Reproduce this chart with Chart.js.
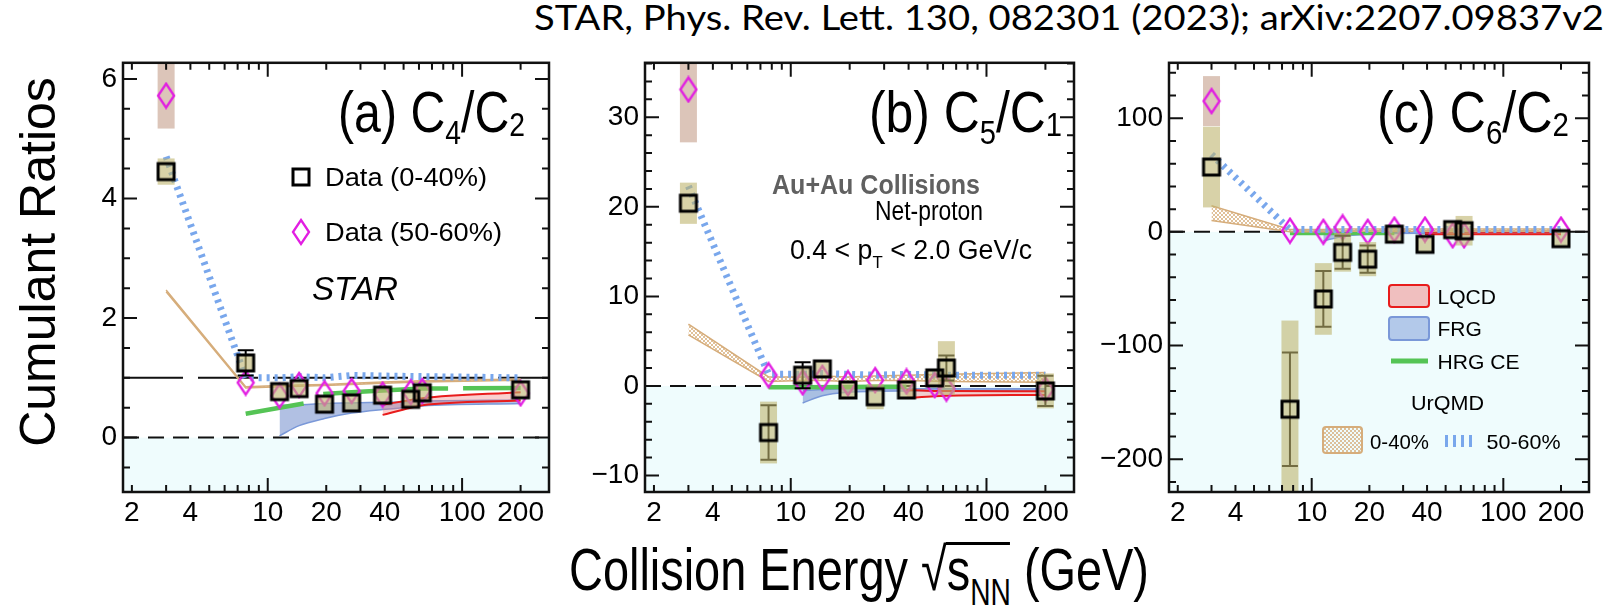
<!DOCTYPE html>
<html>
<head>
<meta charset="utf-8">
<title>Net-proton cumulant ratios vs collision energy</title>
<script src="https://cdn.jsdelivr.net/npm/chart.js@4.4.1/dist/chart.umd.min.js"></script>
<style>
  html, body { margin: 0; padding: 0; background: #fff; }
  body { position: relative; width: 1609px; height: 616px; overflow: hidden; font-family: "Liberation Sans", Arial, sans-serif; }
  canvas { position: absolute; }
  .lbl { position: absolute; white-space: nowrap; line-height: 1; color: #000; transform-origin: 0 0; }
  #cite { font-family: Lato, "Open Sans", sans-serif; font-size: 34px; left: 534px; top: 0px; }
  #ytitle { font-size: 50px; left: 37.5px; top: 262px; transform: translate(-50%, -50%) rotate(-90deg); transform-origin: 50% 50%; }
  #xtitle { font-size: 60px; left: 569px; top: 540px; }
  #xtitle sub { font-size: 36px; vertical-align: -15px; line-height: 1; }
  #xtitle .root { position: relative; }
  #xtitle .root::before { content: ''; position: absolute; left: -1px; right: 1px; top: 6px; border-top: 3px solid #000; }
</style>
</head>
<body>
<div class="lbl" id="cite">STAR, Phys. Rev. Lett. 130, 082301 (2023); arXiv:2207.09837v2</div>
<div class="lbl" id="ytitle">Cumulant Ratios</div>
<div class="lbl" id="xtitle">Collision Energy √<span class="root">s<sub>NN</sub></span> (GeV)</div>
<script>
// collision energies of the measured points (GeV)
const energies = [3, 7.7, 11.5, 14.5, 19.6, 27, 39, 54.4, 62.4, 200];

// C4/C2
const c42Data0040 = [4.45, 1.25, 0.77, 0.82, 0.56, 0.58, 0.71, 0.64, 0.75, 0.80];
const c42Stat0040 = [0.04, 0.21, 0.05, 0.05, 0.05, 0.05, 0.05, 0.05, 0.05, 0.04];
const c42Sys0040  = [0.22, 0.12, 0.08, 0.08, 0.07, 0.07, 0.07, 0.07, 0.07, 0.06];
const c42Data5060 = [5.72, 0.92, 0.70, 0.88, 0.74, 0.78, 0.72, 0.76, 0.78, 0.74];
const c42Sys5060  = [0.55, 0, 0, 0, 0, 0, 0, 0, 0, 0];

// C5/C1
const c51Data0040 = [20.4, -5.2, 1.2, 1.9, -0.45, -1.2, -0.45, 0.9, 2.0, -0.55];
const c51Stat0040 = [0.5, 3.05, 1.45, 0.5, 0.4, 0.4, 0.4, 0.5, 1.4, 1.7];
const c51Sys0040  = [2.3, 3.45, 0.6, 0.6, 0.5, 1.4, 0.5, 0.5, 3.0, 1.95];
const c51Data5060 = [33.1, 1.2, 0.4, 0.9, 0.3, 0.65, 0.5, 0.1, -0.3, -0.4];
const c51Sys5060  = [5.9, 0, 0, 0, 0, 0, 0, 0, 0, 0];

// C6/C2
const c62Data0040 = [57, -156, -59, -18, -24, -2, -11, 2, 1, -6];
const c62Stat0040 = [3, 50, 24.5, 14.5, 12, 3, 3, 4, 4, 3];
const c62Sys0040  = [35.5, 78, 31.5, 17, 15, 3, 3, 4, 13, 3];
const c62Data5060 = [115, 1, 0, 4, 0, 2, 2, -3, -3, 2];
const c62Sys5060  = [22, 0, 0, 0, 0, 0, 0, 0, 0, 0];

// UrQMD
const urqmdEnergies = [3, 7.7, 11.5, 14.5, 19.6, 27, 39, 62.4, 200];
const c42Urqmd5060   = [4.7, 1.0, 1.0, 1.02, 1.0, 1.04, 1.03, 1.02, 1.0];
const c42Urqmd0040Lo = [2.44, 0.83, 0.85, 0.86, 0.87, 0.89, 0.91, 0.93, 0.96];
const c42Urqmd0040Hi = [2.47, 0.85, 0.87, 0.88, 0.89, 0.91, 0.93, 0.95, 0.98];
const c51Urqmd5060   = [22.3, 1.3, 1.3, 1.4, 1.3, 1.2, 1.3, 1.2, 1.2];
const c51Urqmd0040Lo = [5.7, 0.5, 0.6, 0.6, 0.5, 0.6, 0.6, 0.5, 0.4];
const c51Urqmd0040Hi = [6.9, 1.0, 1.0, 1.1, 1.0, 1.1, 1.2, 1.3, 1.5];
const c62Urqmd5060   = [68, 2, 2, 2, 2, 2, 2, 2, 2];
const c62Urqmd0040Lo = [10, 0, 0, 0.5, 0.5, 0.5, 0.5, 0.5, 0.5];
const c62Urqmd0040Hi = [23, 2, 2, 2.5, 2.5, 2.5, 2.5, 2.5, 2.5];

// HRG CE
const c42HrgEnergies = [7.7, 11.5, 15.3, 17, 19.3, 27, 39, 62.4, 200];
const c42Hrg         = [0.40, 0.50, 0.57, null, 0.73, 0.76, 0.79, 0.82, 0.83];
const c51HrgEnergies = [7.7, 11.5, 19.6, 27, 39];
const c51Hrg         = [-0.15, -0.15, -0.12, -0.1, -0.1];
const c62HrgEnergies = [7.7, 11.5, 19.6, 27];
const c62Hrg         = [-1, -1, -1, -1];

// FRG
const frgEnergies = [11.5, 14.5, 19.6, 27, 39, 54.4, 62.4, 200];
const c42FrgLo = [0.03, 0.2, 0.32, 0.41, 0.47, 0.51, 0.53, 0.57];
const c42FrgHi = [0.54, 0.55, 0.57, 0.58, 0.59, 0.60, 0.61, 0.63];
const c51FrgLo = [-1.9, -1.1, -0.7, -0.6, -0.55, -0.5, -0.5, -0.45];
const c51FrgHi = [-0.5, -0.4, -0.3, -0.3, -0.3, -0.3, -0.3, -0.3];
const c62FrgLo = [-8, -4, -2, -1.5, -1.2, -1, -1, -1];
const c62FrgHi = [-1, -0.5, 0, 0, 0, 0, 0, 0];

// LQCD
const lqcdEnergies = [39, 54.4, 62.4, 200];
const c42LqcdLo = [0.38, 0.50, 0.54, 0.62];
const c42LqcdHi = [0.55, 0.63, 0.66, 0.76];
const c51LqcdLo = [-1.35, -1.15, -1.1, -1.0];
const c51LqcdHi = [-0.45, -0.55, -0.55, -0.6];
const c62LqcdLo = [-2, -2, -2, -2];
const c62LqcdHi = [0, 0, 0, 0];

// axis ticks
const xTickVals   = [2, 3, 4, 5, 6, 7, 8, 9, 10, 20, 30, 40, 50, 60, 70, 80, 90, 100, 200];
const xTickLabels = [2, 4, 10, 20, 40, 100, 200];
const xMajorTicks = [10, 100];
const c42YLabels = [0, 2, 4, 6];
const c51YLabels = [-10, 0, 10, 20, 30];
const c62YLabels = [-200, -100, 0, 100];

const FONT = '"Liberation Sans", Arial, sans-serif';
const FRAME_TOP = 56, FRAME_BOTTOM = 492, CANVAS_TOP = 40, CANVAS_H = 500;
const AXIS_W = 90, PAD_R = 14, AXIS_H = CANVAS_H - (FRAME_BOTTOM - CANVAS_TOP);

const BLUE = '#79a7ec', TAN = '#d6ad7b', GREEN = '#55c455', RED = '#e81c1c';
const FRG_LINE = '#7a98d8', FRG_FILL = 'rgba(100,130,200,0.5)', LQCD_FILL = 'rgba(240,120,120,0.35)';
const KHAKI = 'rgba(190,180,110,0.6)', PINK = 'rgba(185,140,115,0.5)', MAGENTA = '#e21ee2';

function makeSquare() {
  const c = document.createElement('canvas');
  c.width = 22; c.height = 22;
  const g = c.getContext('2d');
  g.strokeStyle = '#000'; g.lineWidth = 3;
  g.strokeRect(3, 3, 16, 16);
  return c;
}
function makeDiamond() {
  const c = document.createElement('canvas');
  c.width = 20; c.height = 28;
  const g = c.getContext('2d');
  g.strokeStyle = MAGENTA; g.lineWidth = 2.3;
  g.beginPath(); g.moveTo(10, 2); g.lineTo(18, 14); g.lineTo(10, 26); g.lineTo(2, 14); g.closePath();
  g.stroke();
  return c;
}
function makeHatch() {
  const c = document.createElement('canvas');
  c.width = 4; c.height = 4;
  const g = c.getContext('2d');
  g.fillStyle = 'rgba(214,172,120,0.75)';
  g.fillRect(0, 0, 2, 2); g.fillRect(2, 2, 2, 2);
  return g.createPattern(c, 'repeat');
}
const squareImg = makeSquare();
const diamondImg = makeDiamond();
const hatch = makeHatch();

const pts = (xs, ys) => xs.map((x, i) => ({ x, y: ys[i] }));

const panels = [
  {
    left: 123, right: 549, yMin: -0.91, yMax: 6.27, yLabels: c42YLabels, yStep: 0.5,
    refLines: [{ v: 1, dash: [60, 15] }, { v: 0, dash: [16, 9] }],
    d0040: c42Data0040, stat0040: c42Stat0040, sys0040: c42Sys0040, d5060: c42Data5060, sys5060: c42Sys5060,
    u5060: c42Urqmd5060, uLo: c42Urqmd0040Lo, uHi: c42Urqmd0040Hi,
    hrgE: c42HrgEnergies, hrg: c42Hrg, hrgDash: [125, 15],
    frgLo: c42FrgLo, frgHi: c42FrgHi, lqLo: c42LqcdLo, lqHi: c42LqcdHi,
    notes: [
      { parts: [['(a) C', 58], ['4', 34, 12], ['/C', 58], ['2', 34, 4]], x: 338, base: 132, width: 187 },
      { img: squareImg, x: 301, y: 177 },
      { parts: [['Data (0-40%)', 25]], x: 325, mid: 177, width: 162 },
      { img: diamondImg, x: 301, y: 232 },
      { parts: [['Data (50-60%)', 25]], x: 325, mid: 232, width: 177 },
      { parts: [['STAR', 34, 0, 'italic']], x: 312, mid: 288, width: 86 }
    ]
  },
  {
    left: 645, right: 1074, yMin: -11.84, yMax: 36.08, yLabels: c51YLabels, yStep: 2,
    refLines: [{ v: 0, dash: [16, 9] }],
    d0040: c51Data0040, stat0040: c51Stat0040, sys0040: c51Sys0040, d5060: c51Data5060, sys5060: c51Sys5060,
    u5060: c51Urqmd5060, uLo: c51Urqmd0040Lo, uHi: c51Urqmd0040Hi,
    hrgE: c51HrgEnergies, hrg: c51Hrg, hrgDash: [],
    frgLo: c51FrgLo, frgHi: c51FrgHi, lqLo: c51LqcdLo, lqHi: c51LqcdHi,
    notes: [
      { parts: [['(b) C', 58], ['5', 34, 12], ['/C', 58], ['1', 34, 4]], x: 869, base: 132, width: 193 },
      { parts: [['Au+Au Collisions', 27, 0, 'bold']], x: 772, mid: 184, width: 208, color: '#606060' },
      { parts: [['Net-proton', 27]], x: 875, mid: 210, width: 108 },
      { parts: [['0.4 < p', 27], ['T', 17, 9], [' < 2.0 GeV/c', 27]], x: 790, mid: 249, width: 242 }
    ]
  },
  {
    left: 1169, right: 1589, yMin: -228.8, yMax: 148.7, yLabels: c62YLabels, yStep: 20,
    refLines: [{ v: 0, dash: [16, 9] }],
    d0040: c62Data0040, stat0040: c62Stat0040, sys0040: c62Sys0040, d5060: c62Data5060, sys5060: c62Sys5060,
    u5060: c62Urqmd5060, uLo: c62Urqmd0040Lo, uHi: c62Urqmd0040Hi,
    hrgE: c62HrgEnergies, hrg: c62Hrg, hrgDash: [],
    frgLo: c62FrgLo, frgHi: c62FrgHi, lqLo: c62LqcdLo, lqHi: c62LqcdHi,
    notes: [
      { parts: [['(c) C', 58], ['6', 34, 12], ['/C', 58], ['2', 34, 4]], x: 1377, base: 132, width: 192 },
      { box: [1389, 285, 1429, 307], fill: 'rgba(240,140,140,0.55)', stroke: RED },
      { parts: [['LQCD', 21]], x: 1437.5, mid: 296, width: 58.5 },
      { box: [1389, 317, 1429, 340], fill: 'rgba(120,150,215,0.5)', stroke: FRG_LINE },
      { parts: [['FRG', 21]], x: 1437.5, mid: 328 },
      { line: [1391, 1428, 361], color: GREEN, lw: 5 },
      { parts: [['HRG CE', 21]], x: 1437.5, mid: 361, width: 82 },
      { parts: [['UrQMD', 21]], x: 1411, mid: 402, width: 73 },
      { box: [1323, 427, 1362, 453], fill: hatch, stroke: TAN },
      { parts: [['0-40%', 21]], x: 1370, mid: 441, width: 59 },
      { line: [1445, 1476, 441], color: BLUE, lw: 12, dash: [3, 5] },
      { parts: [['50-60%', 21]], x: 1486.5, mid: 441, width: 74 }
    ]
  }
];

function drawRich(ctx, parts, x, base, width) {
  const fontOf = (size, style) => (style || '') + ' ' + size + 'px ' + FONT;
  let natural = 0;
  parts.forEach(([t, size, dy, style]) => { ctx.font = fontOf(size, style); natural += ctx.measureText(t).width; });
  const sx = width ? width / natural : 1;
  ctx.save();
  ctx.translate(x, base);
  ctx.scale(sx, 1);
  ctx.textAlign = 'left';
  ctx.textBaseline = 'alphabetic';
  let cx = 0;
  parts.forEach(([t, size, dy, style]) => {
    ctx.font = fontOf(size, style);
    ctx.fillText(t, cx, dy || 0);
    cx += ctx.measureText(t).width;
  });
  ctx.restore();
}

// draws the shaded region, reference lines, error bars, boxes, frame and in-plot labels
const panelDecor = {
  id: 'panelDecor',
  beforeDatasetsDraw(chart) {
    const { ctx, chartArea: a, scales: { y } } = chart;
    const p = chart.options.plugins.panelDecor.panel;
    const y0 = y.getPixelForValue(0);
    ctx.save();
    ctx.fillStyle = '#effcfd';
    ctx.fillRect(a.left, y0, a.width, a.bottom - y0);
    ctx.strokeStyle = '#111';
    ctx.lineWidth = 2;
    p.refLines.forEach(r => {
      const yy = y.getPixelForValue(r.v);
      ctx.setLineDash(r.dash);
      ctx.beginPath(); ctx.moveTo(a.left, yy); ctx.lineTo(a.right, yy); ctx.stroke();
    });
    ctx.restore();
  },
  beforeDatasetDraw(chart, args) {
    const ds = chart.data.datasets[args.index];
    if (!ds.errs) return;
    const { ctx, chartArea: a, scales: { x, y } } = chart;
    ctx.save();
    ctx.beginPath(); ctx.rect(a.left, a.top, a.width, a.height); ctx.clip();
    const e = ds.errs;
    if (e.stat) {
      ctx.strokeStyle = '#000'; ctx.lineWidth = 2;
      energies.forEach((en, i) => {
        const px = x.getPixelForValue(en);
        const hi = y.getPixelForValue(e.vals[i] + e.stat[i]);
        const lo = y.getPixelForValue(e.vals[i] - e.stat[i]);
        if (lo - hi < 20) return;
        ctx.beginPath();
        ctx.moveTo(px, hi); ctx.lineTo(px, lo);
        ctx.moveTo(px - 8, hi); ctx.lineTo(px + 8, hi);
        ctx.moveTo(px - 8, lo); ctx.lineTo(px + 8, lo);
        ctx.stroke();
      });
    }
    ctx.fillStyle = e.color;
    energies.forEach((en, i) => {
      if (!e.minBox && !e.sys[i]) return;
      const px = x.getPixelForValue(en);
      let hi = y.getPixelForValue(e.vals[i] + e.sys[i]);
      let lo = y.getPixelForValue(e.vals[i] - e.sys[i]);
      const c = y.getPixelForValue(e.vals[i]);
      if (e.minBox) { hi = Math.min(hi, c - 8.5); lo = Math.max(lo, c + 8.5); }
      ctx.fillRect(px - 8.5, hi, 17, lo - hi);
    });
    ctx.restore();
  },
  afterDatasetsDraw(chart) {
    const { ctx, chartArea: a, scales: { x, y } } = chart;
    const p = chart.options.plugins.panelDecor.panel;
    ctx.save();
    ctx.strokeStyle = '#111';
    ctx.lineWidth = 2;
    xTickVals.forEach(v => {
      const px = x.getPixelForValue(v);
      const len = xMajorTicks.includes(v) ? 14 : 7;
      ctx.beginPath();
      ctx.moveTo(px, a.bottom); ctx.lineTo(px, a.bottom - len);
      ctx.moveTo(px, a.top); ctx.lineTo(px, a.top + len);
      ctx.stroke();
    });
    const k0 = Math.ceil(p.yMin / p.yStep), k1 = Math.floor(p.yMax / p.yStep);
    for (let k = k0; k <= k1; k++) {
      const v = +(k * p.yStep).toFixed(6);
      const py = y.getPixelForValue(v);
      const len = p.yLabels.includes(v) ? 14 : 7;
      ctx.beginPath();
      ctx.moveTo(a.left, py); ctx.lineTo(a.left + len, py);
      ctx.moveTo(a.right, py); ctx.lineTo(a.right - len, py);
      ctx.stroke();
    }
    ctx.lineWidth = 2.5;
    ctx.strokeRect(a.left, a.top, a.width, a.height);

    // labels and legend entries, positioned in page pixels
    ctx.translate(-(p.left - AXIS_W), -CANVAS_TOP);
    p.notes.forEach(n => {
      if (n.img) {
        ctx.drawImage(n.img, n.x - n.img.width / 2, n.y - n.img.height / 2);
      } else if (n.box) {
        const [x0, y0, x1, y1] = n.box;
        ctx.fillStyle = n.fill;
        ctx.strokeStyle = n.stroke;
        ctx.lineWidth = 2;
        ctx.beginPath(); ctx.roundRect(x0, y0, x1 - x0, y1 - y0, 3); ctx.fill(); ctx.stroke();
      } else if (n.line) {
        const [x0, x1, yy] = n.line;
        ctx.save();
        ctx.strokeStyle = n.color; ctx.lineWidth = n.lw; ctx.setLineDash(n.dash || []);
        ctx.beginPath(); ctx.moveTo(x0, yy); ctx.lineTo(x1, yy); ctx.stroke();
        ctx.restore();
      } else {
        ctx.fillStyle = n.color || '#000';
        const size = Math.max(...n.parts.map(q => q[1]));
        const base = n.base !== undefined ? n.base : n.mid + 0.358 * size;
        drawRich(ctx, n.parts, n.x, base, n.width);
      }
    });
    ctx.restore();
  }
};

function buildDatasets(p) {
  const band = { pointRadius: 0, cubicInterpolationMode: 'monotone' };
  return [
    { ...band, label: 'FRG low', data: pts(frgEnergies, p.frgLo), borderColor: FRG_LINE, borderWidth: 1.5, fill: false, order: 6 },
    { ...band, label: 'FRG', data: pts(frgEnergies, p.frgHi), borderColor: FRG_LINE, borderWidth: 1.5, fill: '-1', backgroundColor: FRG_FILL, order: 6 },
    { ...band, label: 'LQCD low', data: pts(lqcdEnergies, p.lqLo), borderColor: RED, borderWidth: 2, fill: false, order: 5 },
    { ...band, label: 'LQCD', data: pts(lqcdEnergies, p.lqHi), borderColor: RED, borderWidth: 2, fill: '-1', backgroundColor: LQCD_FILL, order: 5 },
    { label: 'HRG CE', data: pts(p.hrgE, p.hrg), borderColor: GREEN, borderWidth: 4.5, borderDash: p.hrgDash, pointRadius: 0, spanGaps: false, fill: false, order: 4 },
    { label: 'UrQMD 0-40% low', data: pts(urqmdEnergies, p.uLo), borderColor: TAN, borderWidth: 1.5, pointRadius: 0, fill: false, order: 3 },
    { label: 'UrQMD 0-40%', data: pts(urqmdEnergies, p.uHi), borderColor: TAN, borderWidth: 1.5, pointRadius: 0, fill: '-1', backgroundColor: hatch, order: 3 },
    { label: 'UrQMD 50-60%', data: pts(urqmdEnergies, p.u5060), borderColor: BLUE, borderWidth: 7, borderDash: [3, 5], pointRadius: 0, fill: false, order: 2 },
    { label: 'Data (50-60%)', data: pts(energies, p.d5060), showLine: false, pointStyle: diamondImg, pointRadius: 12, order: 1,
      errs: { vals: p.d5060, sys: p.sys5060, color: PINK, minBox: false } },
    { label: 'Data (0-40%)', data: pts(energies, p.d0040), showLine: false, pointStyle: squareImg, pointRadius: 12, order: 0,
      errs: { vals: p.d0040, stat: p.stat0040, sys: p.sys0040, color: KHAKI, minBox: true } }
  ];
}

const tickFont = { family: FONT, size: 28 };
const fmt = v => (v < 0 ? '\u2212' + Math.abs(v) : String(v));

panels.forEach(p => {
  const cv = document.createElement('canvas');
  const w = p.right - p.left + AXIS_W + PAD_R;
  cv.width = w; cv.height = CANVAS_H;
  cv.style.left = (p.left - AXIS_W) + 'px';
  cv.style.top = CANVAS_TOP + 'px';
  cv.style.width = w + 'px';
  cv.style.height = CANVAS_H + 'px';
  document.body.appendChild(cv);

  new Chart(cv, {
    type: 'line',
    data: { datasets: buildDatasets(p) },
    plugins: [panelDecor],
    options: {
      responsive: false,
      animation: false,
      devicePixelRatio: 1,
      events: [],
      layout: { padding: { top: FRAME_TOP - CANVAS_TOP, right: PAD_R, left: 0, bottom: 0 } },
      plugins: {
        legend: { display: false },
        tooltip: { enabled: false },
        panelDecor: { panel: p }
      },
      scales: {
        x: {
          type: 'logarithmic', min: 1.8, max: 280,
          grid: { display: false, drawTicks: false }, border: { display: false },
          afterBuildTicks: s => { s.ticks = xTickVals.map(v => ({ value: v })); },
          afterFit: s => { s.height = AXIS_H; },
          ticks: { callback: v => (xTickLabels.includes(v) ? String(v) : ''), font: tickFont, color: '#000',
                   padding: 4, autoSkip: false, maxRotation: 0, minRotation: 0 }
        },
        y: {
          type: 'linear', min: p.yMin, max: p.yMax,
          grid: { display: false, drawTicks: false }, border: { display: false },
          afterBuildTicks: s => { s.ticks = p.yLabels.map(v => ({ value: v })); },
          afterFit: s => { s.width = AXIS_W; },
          ticks: { callback: fmt, font: tickFont, color: '#000', padding: 6, autoSkip: false }
        }
      }
    }
  });
});

function fitWidth(id, target) {
  const el = document.getElementById(id);
  const natural = el.getBoundingClientRect().width;
  el.style.transform = 'scaleX(' + (target / natural) + ')';
}
fitWidth('cite', 1070);
fitWidth('xtitle', 580);
</script>
</body>
</html>
